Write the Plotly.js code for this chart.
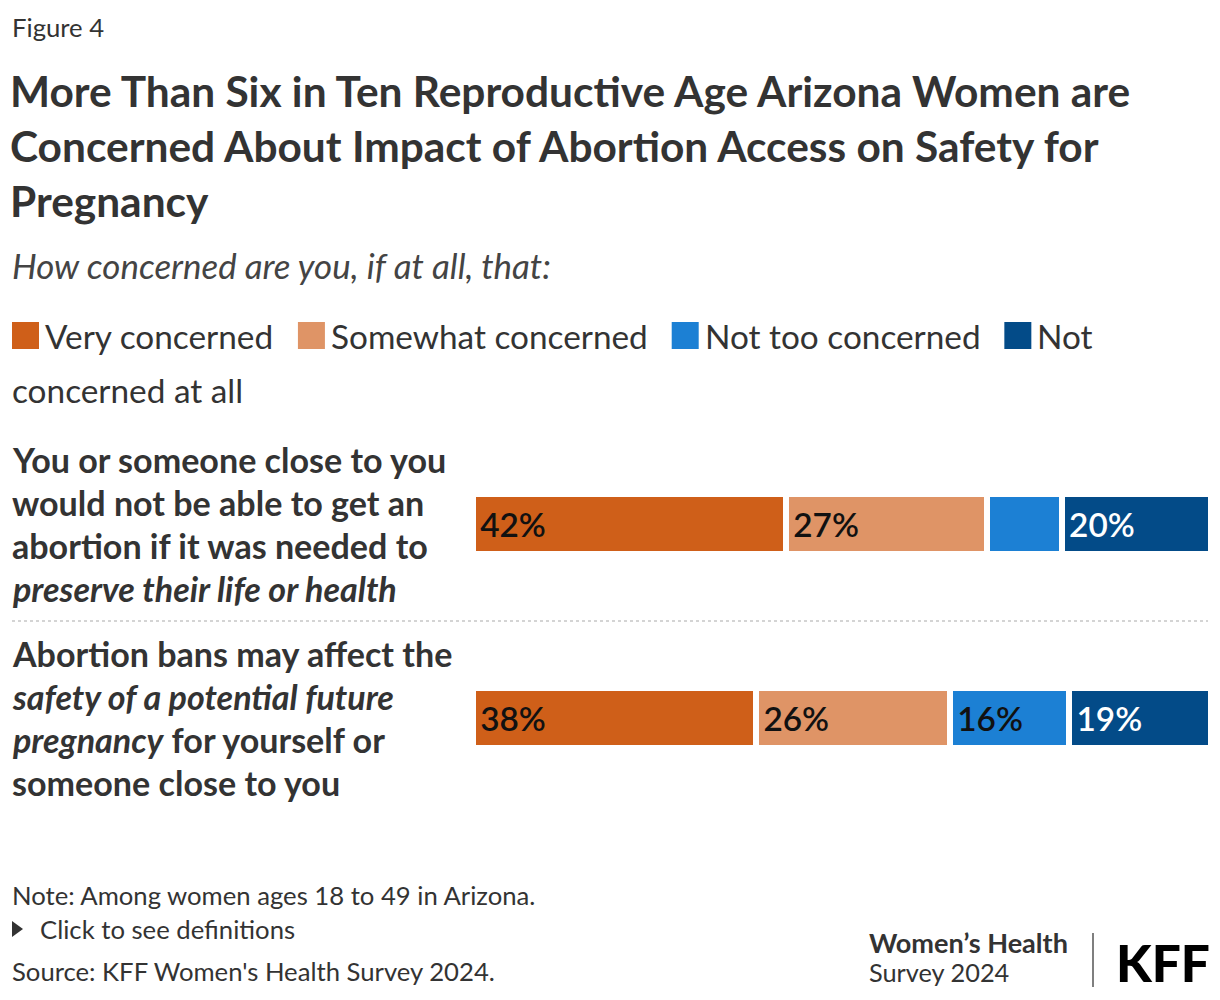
<!DOCTYPE html>
<html>
<head>
<meta charset="utf-8">
<script src="https://cdn.plot.ly/plotly-3.0.1.min.js"></script>
<style>
  html, body { margin: 0; padding: 0; background: #fff; }
  #chart { width: 1220px; height: 1000px; }
</style>
</head>
<body>
<div id="chart"></div>
<script>
// ---------------- DATA ----------------
const categories = [
  "You or someone close to you would not be able to get an abortion if it was needed to preserve their life or health",
  "Abortion bans may affect the safety of a potential future pregnancy for yourself or someone close to you"
];
const categoryLines = [
  ["You or someone close to you", "would not be able to get an", "abortion if it was needed to", "<i>preserve their life or health</i>"],
  ["Abortion bans may affect the", "<i>safety of a potential future</i>", "<i>pregnancy</i> for yourself or", "someone close to you"]
];
const seriesNames = ["Very concerned", "Somewhat concerned", "Not too concerned", "Not concerned at all"];
const veryConcerned     = [42, 38];
const somewhatConcerned = [27, 26];
const notTooConcerned   = [10, 16];
const notConcernedAtAll = [20, 19];
const seriesValues = [veryConcerned, somewhatConcerned, notTooConcerned, notConcernedAtAll];

// ---------------- STYLE ----------------
const FONT = "Lato, 'Noto Sans', sans-serif";
const colors = ["#CF5F19", "#DF9466", "#1C80D4", "#034B88"];
const textColors = ["#111111", "#111111", "#111111", "#ffffff"];

const cv = document.createElement("canvas");
const ctx = cv.getContext("2d");
function tw(text, size, weight, style) {
  ctx.font = (style || "normal") + " " + (weight || "normal") + " " + size + "px Lato";
  return ctx.measureText(text.replace(/<[^>]+>/g, "")).width;
}
function fit(text, target, weight, style) {
  return 40 * target / tw(text, 40, weight, style);
}

const W = 1220, H = 1000;
const L = 473, R = 9, T = 427, B = 185;
const PW = W - L - R, PH = H - T - B;
const px2x = px => (px - L) / PW;
const px2y = py => 1 - (py - T) / PH;

const titleSize = fit("More Than Six in Ten Reproductive Age Arizona Women are", 1126, "bold");
const rowSize = fit("You or someone close to you", 435, "bold");
const legSize = fit("Very concerned", 229, "normal");
const subSize = fit("How concerned are you, if at all, that:", 541, "normal", "italic");
const footSize = fit("Note: Among women ages 18 to 49 in Arizona.", 526, "normal");
const barTextSize = fit("42%", 66, "bold");
const logoBold = fit("Women’s Health", 199, "bold");
const logoReg = fit("Survey 2024", 141, "normal");

const totals = categories.map((c, i) => seriesValues.reduce((s, v) => s + v[i], 0));
const xMax = Math.max.apply(null, totals);

const traces = seriesValues.map((vals, k) => ({
  type: "bar",
  orientation: "h",
  name: seriesNames[k],
  y: categories,
  x: vals,
  text: vals.map(v => v >= 12 ? "\u2009" + v + "%" : ""),
  textposition: "inside",
  insidetextanchor: "start",
  textangle: 0,
  constraintext: "none",
  textfont: { family: FONT, size: barTextSize, color: textColors[k], weight: 600 },
  marker: { color: colors[k], line: { color: "#ffffff", width: 6 } },
  width: 0.305,
  hoverinfo: "skip",
  showlegend: false
}));

const annotations = [];
const shapes = [];

// Figure label
annotations.push({
  xref: "paper", yref: "paper", x: px2x(10), y: px2y(27), xanchor: "left", yanchor: "middle",
  text: "Figure 4", showarrow: false, font: { family: FONT, size: footSize, color: "#333" }
});
// Subtitle
annotations.push({
  xref: "paper", yref: "paper", x: px2x(10), y: px2y(265), xanchor: "left", yanchor: "middle",
  text: "<i>How concerned are you, if at all, that:</i>", showarrow: false,
  font: { family: FONT, size: subSize, color: "#444" }
});

// Legend (manual, wrapping like the reference)
let lx = 12;
const sq = 27;
seriesNames.forEach((name, k) => {
  const first = k < 3 ? name : "Not";
  shapes.push({
    type: "rect", xref: "paper", yref: "paper",
    x0: px2x(lx), x1: px2x(lx + sq), y0: px2y(322), y1: px2y(322 + sq),
    fillcolor: colors[k], line: { width: 0 }
  });
  annotations.push({
    xref: "paper", yref: "paper", x: px2x(lx + sq + 4), y: px2y(336), xanchor: "left", yanchor: "middle",
    text: first, showarrow: false, font: { family: FONT, size: legSize, color: "#333" }
  });
  lx += sq + 6 + tw(first, legSize, "normal") + 24;
});
annotations.push({
  xref: "paper", yref: "paper", x: px2x(10), y: px2y(390), xanchor: "left", yanchor: "middle",
  text: "concerned at all", showarrow: false, font: { family: FONT, size: legSize, color: "#333" }
});

// Row labels
categories.forEach((c, i) => {
  const lines = categoryLines[i];
  lines.forEach((ln, j) => {
    annotations.push({
      xref: "paper", yref: "y", x: px2x(10), y: c, xanchor: "left", yanchor: "middle",
      yshift: -(j - (lines.length - 1) / 2) * 43,
      text: ln, showarrow: false,
      font: { family: FONT, size: rowSize, color: "#333", weight: 700 }
    });
  });
});

// Dotted separator between rows
shapes.push({
  type: "line", xref: "paper", yref: "y", x0: px2x(12), x1: px2x(1208), y0: 0.5, y1: 0.5,
  line: { color: "#d4d4d4", width: 2, dash: "dot" }
});

// Footer
annotations.push({
  xref: "paper", yref: "paper", x: px2x(10), y: px2y(895), xanchor: "left", yanchor: "middle",
  text: "Note: Among women ages 18 to 49 in Arizona.", showarrow: false,
  font: { family: FONT, size: footSize, color: "#333" }
});
shapes.push({
  type: "path", xref: "paper", yref: "paper",
  path: "M " + px2x(12) + " " + px2y(921) + " L " + px2x(23) + " " + px2y(929) + " L " + px2x(12) + " " + px2y(937) + " Z",
  fillcolor: "#333", line: { width: 0 }
});
annotations.push({
  xref: "paper", yref: "paper", x: px2x(38), y: px2y(929), xanchor: "left", yanchor: "middle",
  text: "Click to see definitions", showarrow: false,
  font: { family: FONT, size: footSize, color: "#333" }
});
annotations.push({
  xref: "paper", yref: "paper", x: px2x(10), y: px2y(971), xanchor: "left", yanchor: "middle",
  text: "Source: KFF Women's Health Survey 2024.", showarrow: false,
  font: { family: FONT, size: footSize, color: "#333" }
});
// Logo
annotations.push({
  xref: "paper", yref: "paper", x: px2x(867), y: px2y(942), xanchor: "left", yanchor: "middle",
  text: "Women’s Health", showarrow: false,
  font: { family: FONT, size: logoBold, color: "#333", weight: 700 }
});
annotations.push({
  xref: "paper", yref: "paper", x: px2x(867), y: px2y(972), xanchor: "left", yanchor: "middle",
  text: "Survey 2024", showarrow: false,
  font: { family: FONT, size: logoReg, color: "#333" }
});
shapes.push({
  type: "line", xref: "paper", yref: "paper", x0: px2x(1093), x1: px2x(1093), y0: px2y(933), y1: px2y(987),
  line: { color: "#555", width: 1.5 }
});
annotations.push({
  xref: "paper", yref: "paper", x: px2x(1114), y: px2y(962), xanchor: "left", yanchor: "middle",
  text: "KFF", showarrow: false,
  font: { family: FONT, size: fit("KFF", 94, "900"), color: "#000", weight: 900 }
});

const layout = {
  width: W, height: H,
  paper_bgcolor: "#fff", plot_bgcolor: "#fff",
  margin: { l: L, r: R, t: T, b: B, pad: 0 },
  barmode: "stack",
  title: {
    text: "<b>More Than Six in Ten Reproductive Age Arizona Women are<br>Concerned About Impact of Abortion Access on Safety for<br>Pregnancy</b>",
    x: 10 / W, xanchor: "left", xref: "container",
    y: 1 - 107 / H, yanchor: "top", yref: "container",
    font: { family: FONT, size: titleSize, color: "#333" }
  },
  xaxis: { range: [0, xMax], visible: false, fixedrange: true },
  yaxis: { type: "category", categoryorder: "array", categoryarray: categories,
           range: [1.5, -0.5], visible: false, fixedrange: true },
  annotations: annotations,
  shapes: shapes,
  showlegend: false
};

Plotly.newPlot("chart", traces, layout, { displayModeBar: false, staticPlot: true });
</script>
</body>
</html>
